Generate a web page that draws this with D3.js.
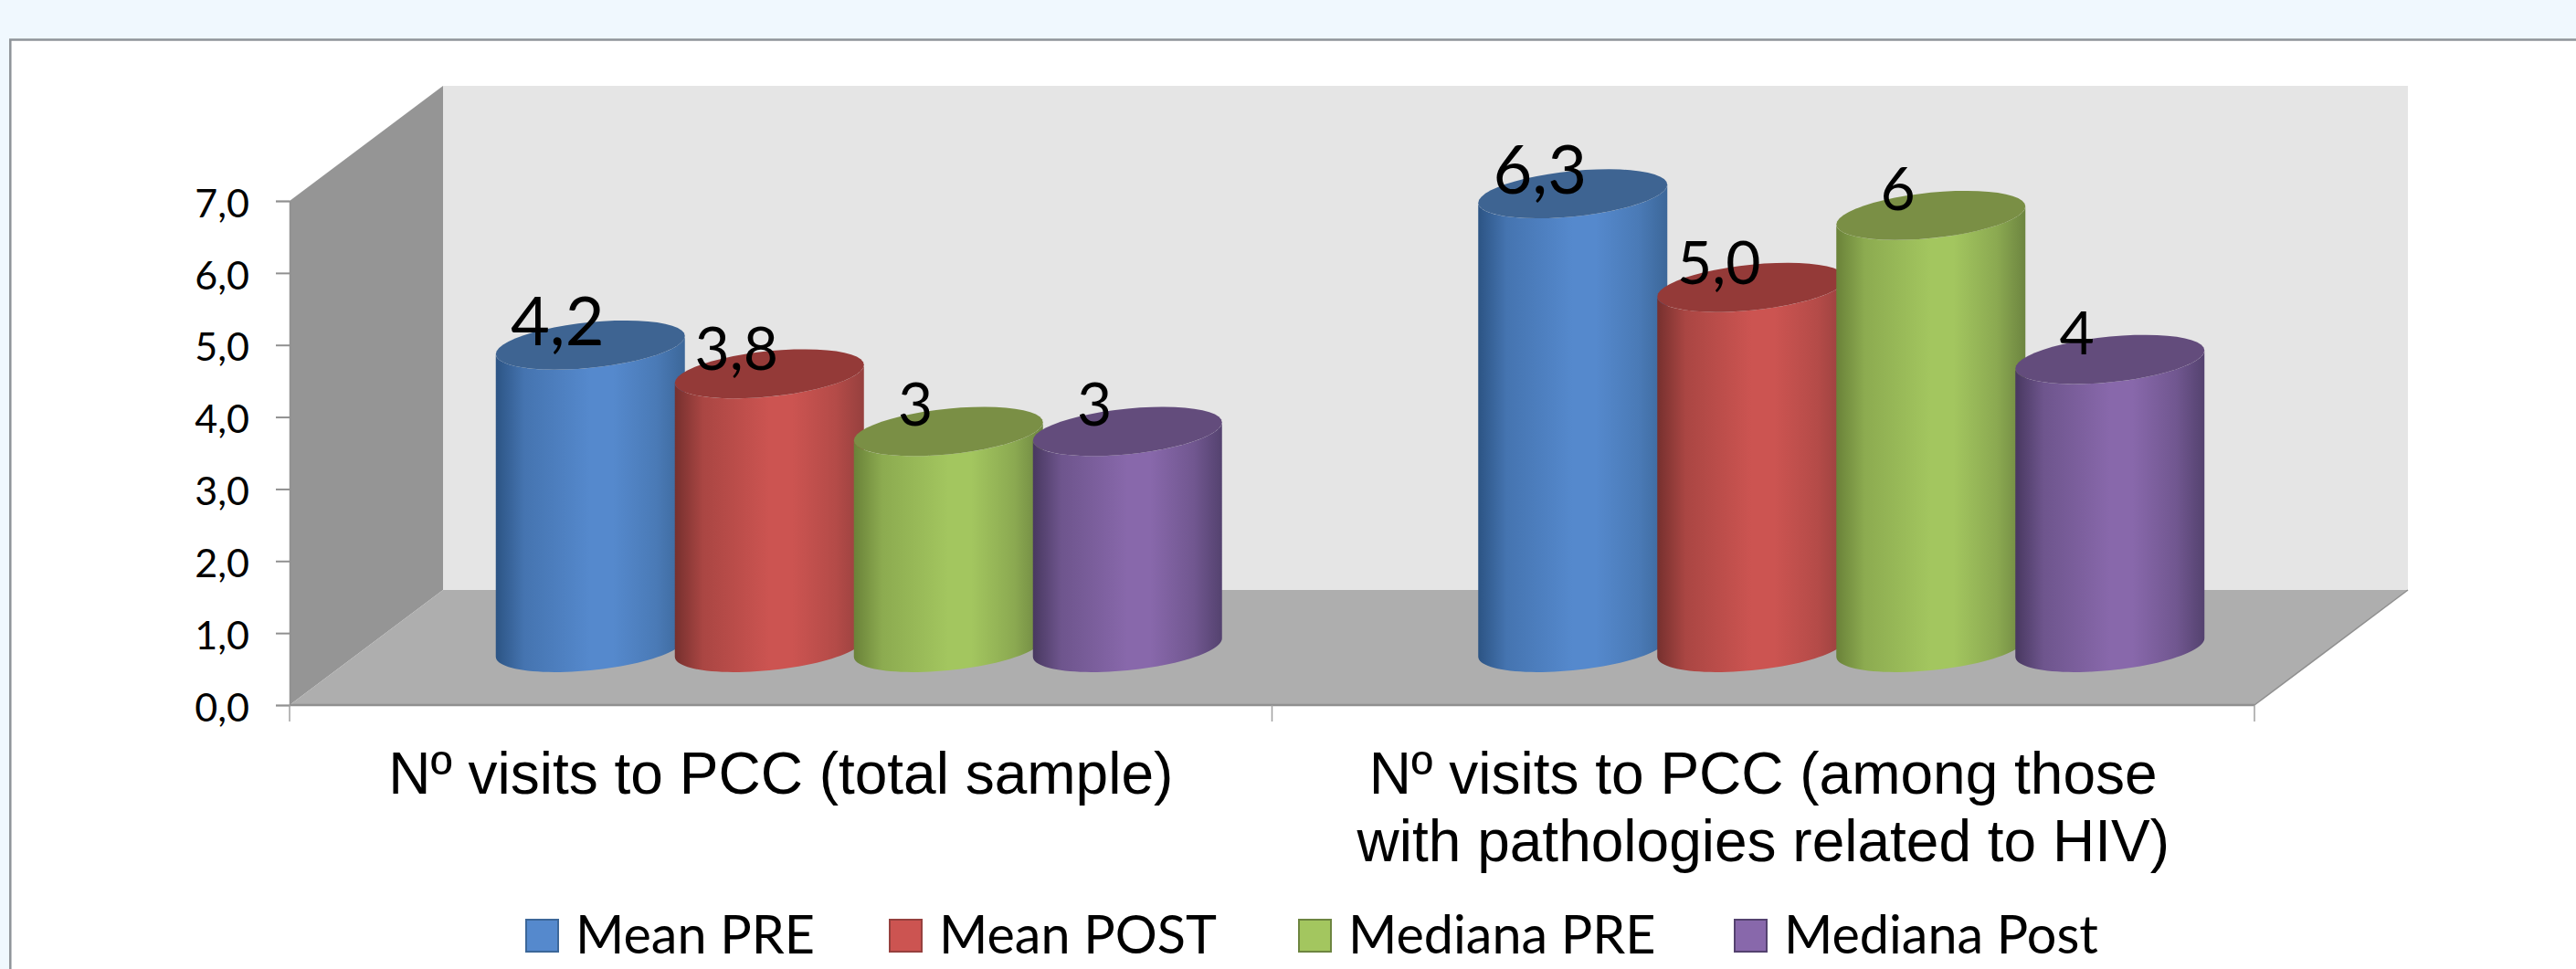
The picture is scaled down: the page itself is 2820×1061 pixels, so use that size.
<!DOCTYPE html>
<html>
<head>
<meta charset="utf-8">
<script src="https://cdn.jsdelivr.net/npm/d3@7"></script>
<style>
  html, body { margin: 0; padding: 0; background: #f0f8fe; }
  svg { display: block; }
  text { fill: #000; }
  .tick-label { font-family: Lato, sans-serif; font-size: 43px; }
  .value-label { font-family: Lato, sans-serif; }
  .cat-label { font-family: "Liberation Sans", Arial, sans-serif; font-size: 64px; }
  .legend-label { font-family: Lato, sans-serif; font-size: 57.5px; }
</style>
</head>
<body>
<div id="chart"></div>
<script>
// Data
var categories = ["total", "hiv"];
var categoryLines = [
  ["Nº visits to PCC (total sample)"],
  ["Nº visits to PCC (among those", "with pathologies related to HIV)"]
];
var seriesNames = ["Mean PRE", "Mean POST", "Mediana PRE", "Mediana Post"];
var meanPre = [4.2, 6.3];
var meanPost = [3.8, 5.0];
var medianaPre = [3, 6];
var medianaPost = [3, 4];
var valueLabels = [
  ["4,2", "6,3"],
  ["3,8", "5,0"],
  ["3", "6"],
  ["3", "4"]
];
var yTicks = [0, 1, 2, 3, 4, 5, 6, 7];

var seriesValues = [meanPre, meanPost, medianaPre, medianaPost];

// Colours: edge, middle, right edge, cap
var seriesColors = [
  { dark: "#2c5484", mid: "#5589cd", right: "#3c6799", cap: "#3e6492" },
  { dark: "#76302e", mid: "#cc5451", right: "#96403e", cap: "#943a38" },
  { dark: "#6a8239", mid: "#a3c65f", right: "#6d8540", cap: "#7a8f45" },
  { dark: "#483860", mid: "#8868ab", right: "#54426f", cap: "#634c7c" }
];

var width = 2820,
    height = 1061;

// Plot box of the 3D chart
var axisLeft = 317,
    axisRight = 2468,
    axisBottom = 772,
    axisTop = 220,
    depthX = 168,
    depthY = 126;

var barStep = 196,
    barWidth = 207,
    capTilt = 10,
    capHeight = 25;

var svg = d3.select("#chart").append("svg")
    .attr("width", width)
    .attr("height", height);

var x0 = d3.scaleBand()
    .domain(categories)
    .range([axisLeft, axisRight]);

var y = d3.scaleLinear()
    .domain([0, 7])
    .range([axisBottom, axisTop]);

var defs = svg.append("defs");

seriesColors.forEach(function(c, i) {
  var grad = defs.append("linearGradient")
      .attr("id", "cyl" + i)
      .attr("x1", 0).attr("x2", 1).attr("y1", 0).attr("y2", 0);
  grad.append("stop").attr("offset", "0").attr("stop-color", c.dark);
  grad.append("stop").attr("offset", "0.15").attr("stop-color", d3.interpolateRgb(c.dark, c.mid)(0.6));
  grad.append("stop").attr("offset", "0.5").attr("stop-color", c.mid);
  grad.append("stop").attr("offset", "0.62").attr("stop-color", c.mid);
  grad.append("stop").attr("offset", "0.85").attr("stop-color", d3.interpolateRgb(c.mid, c.right)(0.45));
  grad.append("stop").attr("offset", "1").attr("stop-color", c.right);
});

// Page frame
svg.append("rect")
    .attr("x", 11.3)
    .attr("y", 43.5)
    .attr("width", width)
    .attr("height", height)
    .attr("fill", "#fff")
    .attr("stroke", "#8f9499")
    .attr("stroke-width", 2.5);

// Back wall, side wall, floor
var backLeft = axisLeft + depthX,
    backRight = axisRight + depthX,
    backBottom = axisBottom - depthY,
    backTop = axisTop - depthY;

var polygon = d3.line();

svg.append("path")
    .attr("d", polygon([[backLeft, backTop], [backRight, backTop], [backRight, backBottom], [backLeft, backBottom]]) + "Z")
    .attr("fill", "#e5e5e5");

svg.append("path")
    .attr("d", polygon([[axisLeft, axisTop], [backLeft, backTop], [backLeft, backBottom], [axisLeft, axisBottom]]) + "Z")
    .attr("fill", "#959595");

svg.append("path")
    .attr("d", polygon([[axisLeft, axisBottom], [axisRight, axisBottom], [backRight, backBottom], [backLeft, backBottom]]) + "Z")
    .attr("fill", "#aeaeae");

svg.append("path")
    .attr("d", polygon([[axisRight, axisBottom], [backRight, backBottom]]))
    .attr("fill", "none")
    .attr("stroke", "#909090")
    .attr("stroke-width", 1.5);

// Axes
var yAxis = d3.axisLeft(y)
    .tickValues(yTicks)
    .tickSize(15)
    .tickPadding(29)
    .tickFormat(function(d) { return d3.format(".1f")(d).replace(".", ","); });

var yAxisG = svg.append("g")
    .attr("transform", "translate(" + axisLeft + ",0)")
    .call(yAxis);

yAxisG.selectAll("text")
    .attr("class", "tick-label")
    .attr("fill", "#000")
    .attr("dy", "0.4em");
yAxisG.selectAll("line").attr("stroke", "#909090").attr("stroke-width", 2);
yAxisG.select(".domain").attr("stroke", "#909090").attr("stroke-width", 1.5);

svg.append("line")
    .attr("x1", axisLeft).attr("x2", axisRight)
    .attr("y1", axisBottom).attr("y2", axisBottom)
    .attr("stroke", "#909090")
    .attr("stroke-width", 2.5);

svg.selectAll(".x-tick")
    .data(categories.map(function(d) { return x0(d); }).concat([axisRight]))
  .enter().append("line")
    .attr("class", "x-tick")
    .attr("x1", function(d) { return d; })
    .attr("x2", function(d) { return d; })
    .attr("y1", axisBottom)
    .attr("y2", axisBottom + 18)
    .attr("stroke", "#a0a0a0")
    .attr("stroke-width", 1.5);

// Cylinders sit halfway down the depth of the floor
function capPoint(cx, cy, t) {
  return [
    cx + barWidth / 2 * Math.cos(t),
    cy + capHeight * Math.sin(t) - capTilt * Math.cos(t)
  ];
}

function capPoints(cx, cy, from, to) {
  return d3.range(0, 49).map(function(i) {
    return capPoint(cx, cy, from + (to - from) * i / 48);
  });
}

function barCenter(cat, s) {
  return x0(cat) + x0.bandwidth() / 2 + depthX / 2 + 1.5 + (s - 1.5) * barStep;
}

var baseY = y(0) - depthY / 2;

function topY(v) {
  return y(v) - depthY / 2;
}

seriesValues.forEach(function(values, s) {
  var g = svg.append("g").attr("class", "series");

  var bars = g.selectAll(".bar")
      .data(categories.map(function(c, i) { return { cat: c, value: values[i] }; }))
    .enter().append("g")
      .attr("class", "bar");

  bars.append("path")
      .attr("fill", "url(#cyl" + s + ")")
      .attr("d", function(d) {
        var cx = barCenter(d.cat, s);
        return polygon(capPoints(cx, baseY, 0, Math.PI).concat(capPoints(cx, topY(d.value), Math.PI, 0))) + "Z";
      });

  bars.append("path")
      .attr("fill", seriesColors[s].cap)
      .attr("d", function(d) {
        var cx = barCenter(d.cat, s);
        return polygon(capPoints(cx, topY(d.value), 0, 2 * Math.PI)) + "Z";
      });
});

// Value labels go on top of all the cylinders
var labelSizes = [74, 66, 66, 66];
var labelLifts = [0, 4, 6, 6];

seriesValues.forEach(function(values, s) {
  svg.selectAll(".value-" + s)
      .data(categories.map(function(c, i) { return { cat: c, value: values[i], label: valueLabels[s][i] }; }))
    .enter().append("text")
      .attr("class", "value-label value-" + s)
      .attr("text-anchor", "middle")
      .attr("font-size", labelSizes[s])
      .attr("x", function(d) { return barCenter(d.cat, s) - 36; })
      .attr("y", function(d) { return topY(d.value) - labelLifts[s]; })
      .text(function(d) { return d.label; });
});

// Category labels
categories.forEach(function(c, i) {
  svg.selectAll(".cat-" + i)
      .data(categoryLines[i])
    .enter().append("text")
      .attr("class", "cat-label cat-" + i)
      .attr("text-anchor", "middle")
      .attr("x", x0(c) + x0.bandwidth() / 2)
      .attr("y", function(d, j) { return 869 + j * 74; })
      .text(function(d) { return d; });
});

// Legend
var legendX = [575, 973, 1421, 1898];

var legend = svg.selectAll(".legend-item")
    .data(seriesNames)
  .enter().append("g")
    .attr("class", "legend-item")
    .attr("transform", function(d, i) { return "translate(" + legendX[i] + ",1006)"; });

legend.append("rect")
    .attr("x", 1)
    .attr("y", 1)
    .attr("width", 35)
    .attr("height", 35)
    .attr("fill", function(d, i) { return seriesColors[i].mid; })
    .attr("stroke", function(d, i) { return seriesColors[i].right; })
    .attr("stroke-width", 2);

legend.append("text")
    .attr("class", "legend-label")
    .attr("x", 55)
    .attr("y", 38)
    .text(function(d) { return d; });
</script>
</body>
</html>
